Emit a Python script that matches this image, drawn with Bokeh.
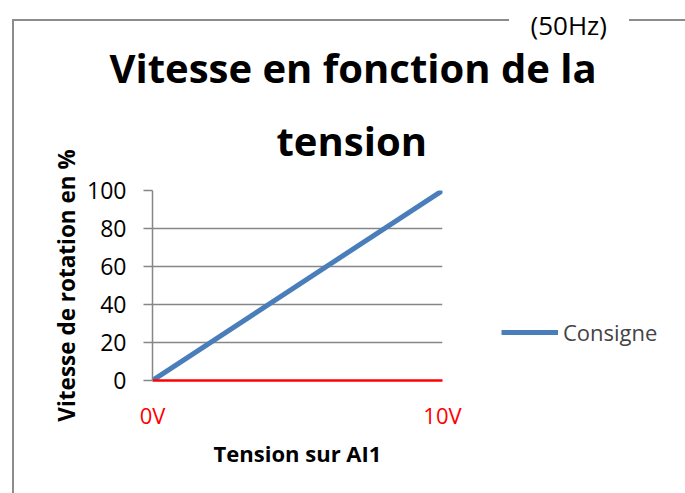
from bokeh.plotting import figure
from bokeh.models import Range1d, FixedTicker, Title, Legend, LegendItem, InlineStyleSheet
from bokeh.embed import file_html
from bokeh.resources import INLINE

# ---- data ----
volts = [0, 10]
volt_labels = ["0V", "10V"]
consigne = [0, 100]
y_ticks = [0, 20, 40, 60, 80, 100]
title_line1 = "Vitesse en fonction de la"
title_line2 = "tension"
freq_note = "(50Hz)"
series_name = "Consigne"
x_title = "Tension sur AI1"
y_title = "Vitesse de rotation en %"

FONT = "Open Sans"
GRAY = "#868686"

p = figure(title=None, frame_width=290, frame_height=190, output_backend="svg",
           toolbar_location=None,
           x_range=Range1d(volts[0], volts[-1]), y_range=Range1d(y_ticks[0], y_ticks[-1]),
           min_border_left=152, min_border_right=243, min_border_top=190, min_border_bottom=113)
p.outline_line_color = None
p.background_fill_color = "white"
p.border_fill_color = "white"

r = p.line(volts, consigne, line_width=5, color="#4A7EBB")

# x axis
xa = p.xaxis[0]
xa.ticker = FixedTicker(ticks=volts)
xa.major_label_overrides = dict(zip(volts, volt_labels))
xa.major_label_text_color = "#FF0000"
xa.major_label_text_font = FONT
xa.major_label_text_font_size = "22px"
xa.major_tick_out = 0
xa.major_tick_in = 0
xa.minor_tick_out = 0
xa.minor_tick_in = 0
xa.axis_line_color = "#FF0000"
xa.axis_line_width = 2.5
xa.major_label_standoff = 19
xa.axis_label = x_title
xa.axis_label_text_font = FONT
xa.axis_label_text_font_style = "bold"
xa.axis_label_text_font_size = "22px"
xa.axis_label_text_color = "black"
xa.axis_label_standoff = 5

# y axis
ya = p.yaxis[0]
ya.ticker = FixedTicker(ticks=y_ticks)
ya.major_label_text_font = FONT
ya.major_label_text_font_size = "23px"
ya.major_label_text_color = "black"
ya.major_tick_out = 9
ya.major_tick_in = 0
ya.minor_tick_out = 0
ya.minor_tick_in = 0
ya.major_tick_line_color = GRAY
ya.major_tick_line_width = 1.5
ya.axis_line_color = GRAY
ya.axis_line_width = 1.5
ya.major_label_standoff = 17
ya.axis_label = y_title
ya.axis_label_text_font = FONT
ya.axis_label_text_font_style = "bold"
ya.axis_label_text_font_size = "22.5px"
ya.axis_label_text_color = "black"
ya.axis_label_standoff = 2

p.xgrid.visible = False
p.ygrid.ticker = FixedTicker(ticks=y_ticks)
p.ygrid.grid_line_color = GRAY
p.ygrid.grid_line_width = 1.5

# titles (stacked in the above panel from the frame upward)
p.add_layout(Title(text=title_line2, align="left", offset=124, text_font=FONT,
                   text_color="black", text_font_style="bold", text_font_size="40px",
                   standoff=46), "above")
p.add_layout(Title(text=title_line1, align="left", offset=-43, text_font=FONT,
                   text_color="black", text_font_style="bold", text_font_size="40px",
                   standoff=-15), "above")
p.add_layout(Title(text=freq_note, align="left", offset=378, text_font=FONT,
                   text_color="black", text_font_style="normal", text_font_size="26px",
                   standoff=6, background_fill_color="white"), "above")

legend = Legend(items=[LegendItem(label=series_name, renderers=[r])], location=(59, 33),
                padding=0, margin=0, border_line_color=None, background_fill_alpha=0,
                glyph_width=57, glyph_height=20, label_standoff=5, label_height=20,
                label_text_font=FONT, label_text_font_size="22px")
p.add_layout(legend, "right")

css = """
:host { position: relative; }
:host::before { content: ""; position: absolute; left: 12px; top: 19px; width: 497px; height: 474px;
  border-left: 2px solid #8c8c8c; border-top: 2px solid #8c8c8c; box-sizing: border-box;
  z-index: 10; pointer-events: none; }
:host::after { content: ""; position: absolute; left: 629px; top: 19px; width: 56px; height: 2px;
  background: #8c8c8c; z-index: 10; pointer-events: none; }
"""
p.stylesheets = [InlineStyleSheet(css=css)]

open("out.html", "w").write(file_html(p, INLINE))
